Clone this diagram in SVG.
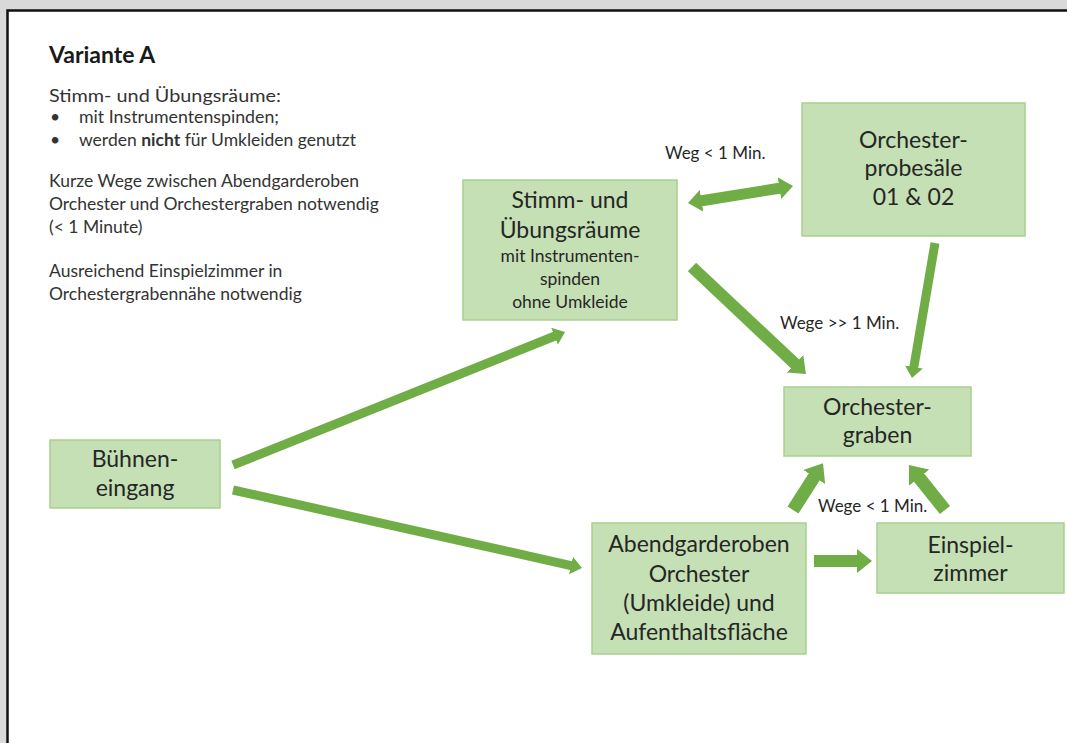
<svg xmlns="http://www.w3.org/2000/svg" width="1067" height="743" viewBox="0 0 1067 743">
<style>
  .bg { fill: #d9d9d9; }
  .panel { fill: #ffffff; stroke: #111111; stroke-width: 2.5; }
  .node { fill: #c5e0b4; stroke: #a9cf8f; stroke-width: 1.5; }
  .t { font-family: Lato, "Open Sans", "Liberation Sans", sans-serif; fill: #262626; }
  .side { font-size: 17.5px; fill: #333333; }
  .title { font-size: 23px; font-weight: bold; fill: #1a1a1a; }
  .big { font-size: 23px; text-anchor: middle; }
  .small { font-size: 17.5px; text-anchor: middle; }
  .lbl { font-size: 17px; }
  .arr { stroke: #70ad47; fill: none; stroke-linecap: butt; marker-end: url(#head); }
</style>
<defs>
  <marker id="head" viewBox="0 0 10 16" refX="1" refY="8" markerWidth="1.25" markerHeight="2" orient="auto-start-reverse" markerUnits="strokeWidth">
    <path d="M0,0 L10,8 L0,16 Z" fill="#70ad47"/>
  </marker>
</defs>
<rect class="bg" x="0" y="0" width="1067" height="743"/>
<rect class="panel" x="7.5" y="10.5" width="1080" height="760"/>

<g id="notes" class="t side">
  <text class="t title" x="49" y="63">Variante A</text>
  <text x="49" y="102" textLength="232" lengthAdjust="spacingAndGlyphs">Stimm- und Übungsräume:</text>
  <text x="50" y="123">•</text>
  <text x="79" y="123" textLength="200" lengthAdjust="spacingAndGlyphs">mit Instrumentenspinden;</text>
  <text x="50" y="146">•</text>
  <text x="79" y="146">werden <tspan font-weight="bold">nicht</tspan> für Umkleiden genutzt</text>
  <text x="49" y="187">Kurze Wege zwischen Abendgarderoben</text>
  <text x="49" y="210">Orchester und Orchestergraben notwendig</text>
  <text x="49" y="233">(&lt; 1 Minute)</text>
  <text x="49" y="277">Ausreichend Einspielzimmer in</text>
  <text x="49" y="300">Orchestergrabennähe notwendig</text>
</g>

<g id="connectors">
  <line class="arr" stroke-width="9" x1="233" y1="465" x2="555.6" y2="335.8"/>
  <line class="arr" stroke-width="9" x1="233" y1="490" x2="572.1" y2="565.8"/>
  <line class="arr" stroke-width="11" x1="700.2" y1="201" x2="780.8" y2="188" marker-start="url(#head)"/>
  <line class="arr" stroke-width="12" x1="692" y1="267" x2="796.1" y2="364.8"/>
  <line class="arr" stroke-width="9" x1="935" y1="243" x2="913.7" y2="368"/>
  <line class="arr" stroke-width="13" x1="793" y1="510" x2="815.1" y2="475.6"/>
  <line class="arr" stroke-width="13" x1="945" y1="510" x2="918.1" y2="476.4"/>
  <line class="arr" stroke-width="12" x1="814" y1="561" x2="858.5" y2="561"/>
</g>

<g id="labels" class="t lbl">
  <text x="665" y="159">Weg &lt; 1 Min.</text>
  <text x="780" y="329">Wege &gt;&gt; 1 Min.</text>
  <text x="818" y="512">Wege &lt; 1 Min.</text>
</g>

<g id="buehneneingang">
  <rect class="node" x="50" y="440" width="170" height="68"/>
  <text class="t big" x="135" y="467">Bühnen-</text>
  <text class="t big" x="135" y="496">eingang</text>
</g>

<g id="stimm">
  <rect class="node" x="463" y="180" width="214" height="140"/>
  <text class="t big" x="570" y="208">Stimm- und</text>
  <text class="t big" x="570" y="238">Übungsräume</text>
  <text class="t small" x="570" y="262">mit Instrumenten-</text>
  <text class="t small" x="570" y="285">spinden</text>
  <text class="t small" x="570" y="308">ohne Umkleide</text>
</g>

<g id="probesaele">
  <rect class="node" x="802" y="103" width="223" height="133"/>
  <text class="t big" x="913.5" y="148">Orchester-</text>
  <text class="t big" x="913.5" y="176">probesäle</text>
  <text class="t big" x="913.5" y="205">01 &amp; 02</text>
</g>

<g id="orchestergraben">
  <rect class="node" x="784" y="387" width="187" height="69"/>
  <text class="t big" x="877.5" y="415">Orchester-</text>
  <text class="t big" x="877.5" y="443">graben</text>
</g>

<g id="abendgarderoben">
  <rect class="node" x="592" y="523" width="214" height="131"/>
  <text class="t big" x="699" y="552">Abendgarderoben</text>
  <text class="t big" x="699" y="582">Orchester</text>
  <text class="t big" x="699" y="611">(Umkleide) und</text>
  <text class="t big" x="699" y="640">Aufenthaltsfläche</text>
</g>

<g id="einspielzimmer">
  <rect class="node" x="877" y="523" width="187" height="70"/>
  <text class="t big" x="970.5" y="553">Einspiel-</text>
  <text class="t big" x="970.5" y="581">zimmer</text>
</g>
</svg>
